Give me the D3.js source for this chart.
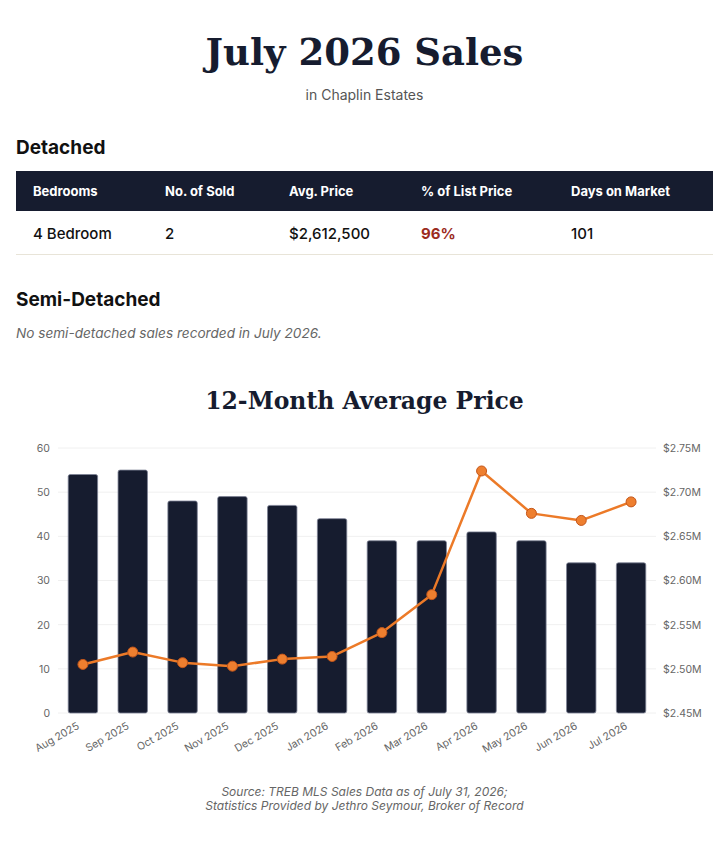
<!DOCTYPE html>
<html>
<head>
<meta charset="utf-8">
<script src="https://cdn.jsdelivr.net/npm/d3@7"></script>
<style>
  body { margin: 0; background: #fff; font-family: Inter, "Noto Sans", sans-serif; color: #111; }
  .page { position: relative; width: 728px; height: 850px; }
  .abs { position: absolute; left: 16px; right: 15px; }
  h1 { margin: 0; text-align: center; font: bold 37px/44px "DejaVu Serif", Georgia, serif; color: #161c2f; }
  .sub { text-align: center; font-size: 14px; line-height: 20px; color: #555; }
  h2 { margin: 0; font-size: 19px; line-height: 24px; font-weight: 700; color: #111; }
  .note { font-size: 13.6px; line-height: 20px; font-style: italic; color: #666; }
  .ctitle { text-align: center; font: bold 23.5px/32px "DejaVu Serif", Georgia, serif; color: #161c2f; }
  table { border-collapse: collapse; width: 100%; table-layout: fixed; }
  th { background: #161c2f; color: #fff; font-size: 13px; font-weight: 700; text-align: left; height: 40px; padding: 0 0 0 17px; }
  td { font-size: 15px; font-weight: 500; height: 41px; padding: 2px 0 0 17px; border-bottom: 1px solid #e8e4d8; color: #111; }
  td.pct { color: #9b2c1f; font-weight: 700; }
  .foot { text-align: center; font-size: 12px; line-height: 14px; font-style: italic; color: #666; }
  .tick text { font-family: Inter, "Noto Sans", sans-serif; fill: #666; }
</style>
</head>
<body>
<div class="page">
  <h1 class="abs" style="top:30px">July 2026 Sales</h1>
  <div class="abs sub" style="top:85px">in Chaplin Estates</div>
  <h2 class="abs" style="top:136px">Detached</h2>
  <div class="abs" style="top:171px" id="tbl"></div>
  <h2 class="abs" style="top:288px">Semi-Detached</h2>
  <div class="abs note" style="top:323px">No semi-detached sales recorded in July 2026.</div>
  <div class="abs ctitle" style="top:385px">12-Month Average Price</div>
  <svg id="chart" width="728" height="360" style="position:absolute;left:0;top:420px"></svg>
  <div class="abs foot" style="top:785px">Source: TREB MLS Sales Data as of July 31, 2026;<br>Statistics Provided by Jethro Seymour, Broker of Record</div>
</div>
<script>
// table data
const columns = ["Bedrooms", "No. of Sold", "Avg. Price", "% of List Price", "Days on Market"];
const colWidths = [132, 124, 132, 150, 159];
const detachedRows = [["4 Bedroom", "2", "$2,612,500", "96%", "101"]];

// chart data
const months = ["Aug 2025", "Sep 2025", "Oct 2025", "Nov 2025", "Dec 2025", "Jan 2026",
                "Feb 2026", "Mar 2026", "Apr 2026", "May 2026", "Jun 2026", "Jul 2026"];
const soldCounts = [54, 55, 48, 49, 47, 44, 39, 39, 41, 39, 34, 34];
const avgPrices = [2505000, 2519000, 2507000, 2503000, 2511000, 2514000,
                   2541000, 2584000, 2724000, 2676000, 2668000, 2689000];
const leftTicks = [0, 10, 20, 30, 40, 50, 60];
const rightTicks = [2450000, 2500000, 2550000, 2600000, 2650000, 2700000, 2750000];

// build the table
const table = d3.select("#tbl").append("table");
table.append("colgroup").selectAll("col")
    .data(colWidths)
    .enter().append("col")
    .style("width", d => d + "px");
table.append("thead").append("tr")
    .selectAll("th")
    .data(columns)
    .enter().append("th")
    .text(d => d);
table.append("tbody").selectAll("tr")
    .data(detachedRows)
    .enter().append("tr")
    .selectAll("td")
    .data(d => d)
    .enter().append("td")
    .attr("class", (d, i) => i === 3 ? "pct" : null)
    .text(d => d);

// chart
const svg = d3.select("#chart");
const margin = {top: 28, right: 72, bottom: 67, left: 58};
const width = 728 - margin.left - margin.right,
      height = 360 - margin.top - margin.bottom;

const g = svg.append("g")
    .attr("transform", `translate(${margin.left},${margin.top})`);

const x = d3.scaleBand()
    .domain(months)
    .range([0, width])
    .paddingInner(0.41)
    .paddingOuter(0.205);

const yLeft = d3.scaleLinear().domain([0, 60]).range([height, 0]);
const yRight = d3.scaleLinear().domain([2450000, 2750000]).range([height, 0]);

// gridlines
g.append("g")
    .selectAll("line")
    .data(leftTicks)
    .enter().append("line")
    .attr("x1", 0)
    .attr("x2", width)
    .attr("y1", d => yLeft(d))
    .attr("y2", d => yLeft(d))
    .attr("stroke", "#f0f0f0")
    .attr("stroke-width", 1);

// left axis
const leftAxis = g.append("g")
    .call(d3.axisLeft(yLeft).tickValues(leftTicks).tickSize(0).tickPadding(8));
leftAxis.select(".domain").remove();
leftAxis.selectAll("text").attr("font-size", 10.5);

// right axis
const rightAxis = g.append("g")
    .attr("transform", `translate(${width},0)`)
    .call(d3.axisRight(yRight).tickValues(rightTicks).tickSize(0).tickPadding(7)
        .tickFormat(d => "$" + (d / 1e6).toFixed(2) + "M"));
rightAxis.select(".domain").remove();
rightAxis.selectAll("text").attr("font-size", 10.5).attr("fill", "#222");

// bottom axis with rotated labels
const bottomAxis = g.append("g")
    .attr("transform", `translate(0,${height})`)
    .call(d3.axisBottom(x).tickSize(0));
bottomAxis.select(".domain").remove();
bottomAxis.selectAll("text")
    .attr("font-size", 10.5)
    .attr("text-anchor", "end")
    .attr("y", 0)
    .attr("dy", 0)
    .attr("transform", "translate(-3,15) rotate(-30)");

// bars
g.append("g")
    .selectAll("rect")
    .data(soldCounts)
    .enter().append("rect")
    .attr("x", (d, i) => x(months[i]))
    .attr("y", d => yLeft(d))
    .attr("width", x.bandwidth())
    .attr("height", d => yLeft(0) - yLeft(d))
    .attr("rx", 2)
    .attr("fill", "#161c2f")
    .attr("stroke", "#7c8294")
    .attr("stroke-width", 0.8);

// price line
const line = d3.line()
    .x((d, i) => x(months[i]) + x.bandwidth() / 2)
    .y(d => yRight(d));

g.append("path")
    .datum(avgPrices)
    .attr("fill", "none")
    .attr("stroke", "#ec7a28")
    .attr("stroke-width", 2.5)
    .attr("stroke-linejoin", "round")
    .attr("d", line);

g.append("g")
    .selectAll("circle")
    .data(avgPrices)
    .enter().append("circle")
    .attr("cx", (d, i) => x(months[i]) + x.bandwidth() / 2)
    .attr("cy", d => yRight(d))
    .attr("r", 5)
    .attr("fill", "#ee7f2f")
    .attr("stroke", "#c4561a")
    .attr("stroke-width", 1);
</script>
</body>
</html>
